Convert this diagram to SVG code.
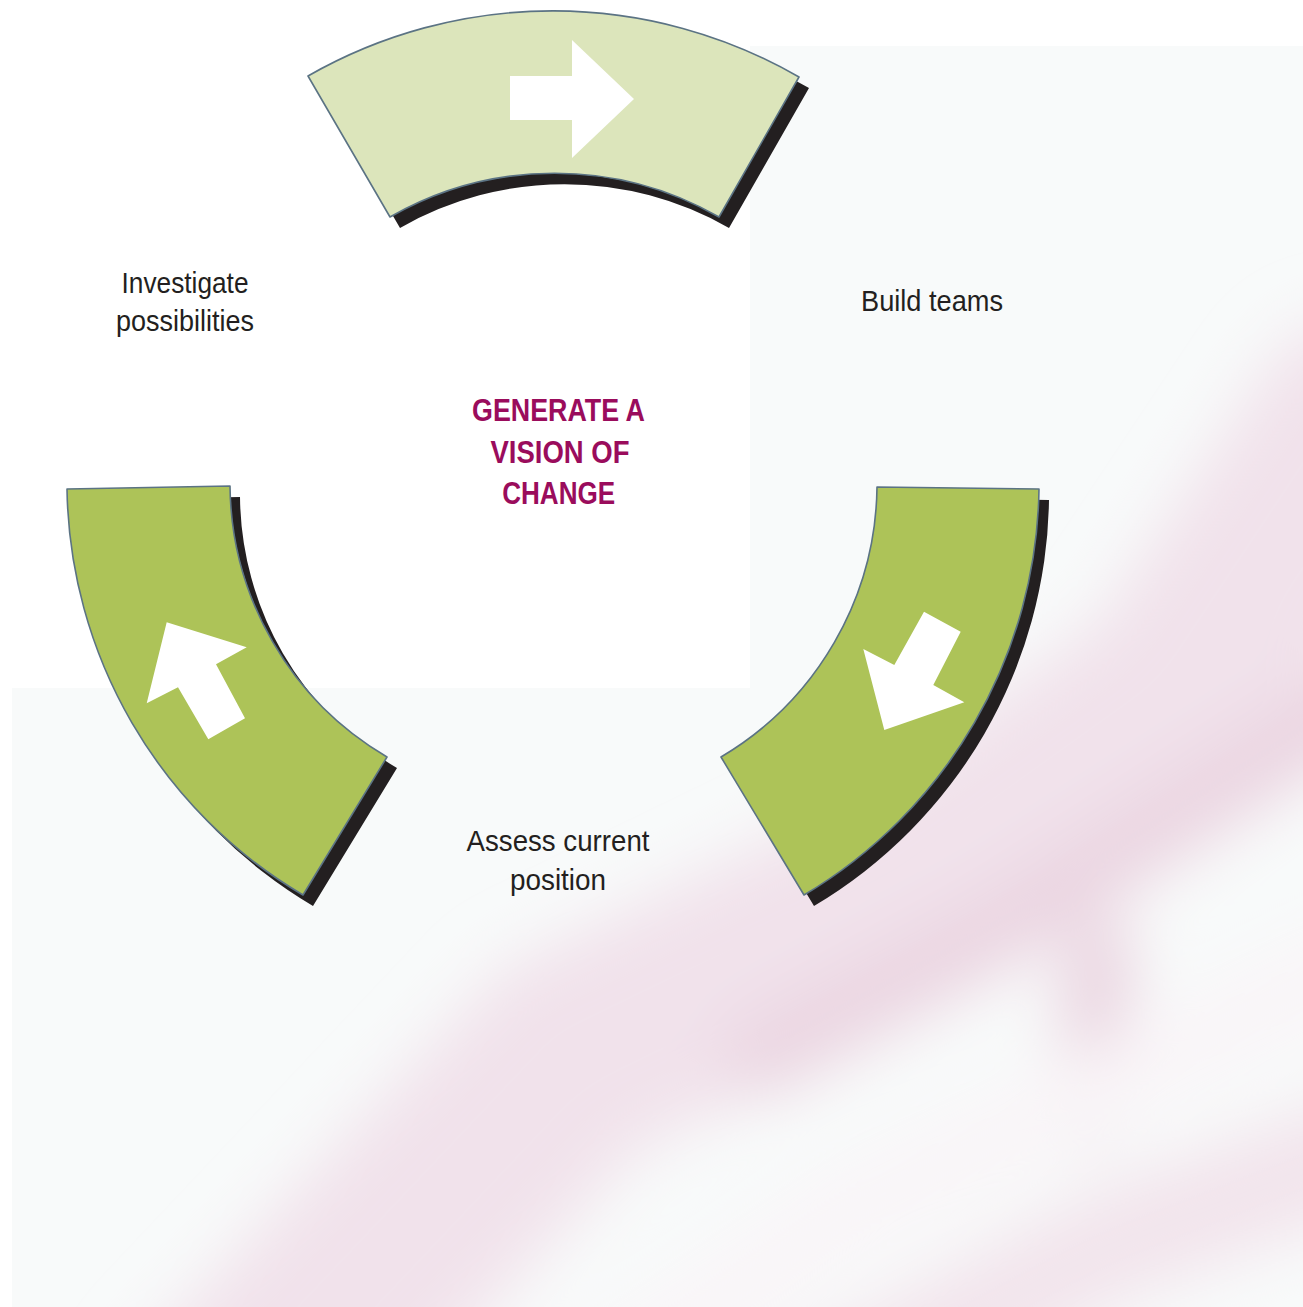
<svg xmlns="http://www.w3.org/2000/svg" width="1303" height="1307" viewBox="0 0 1303 1307">
  <defs>
    <style>
      .seg { stroke: #5b7384; stroke-width: 1.6; stroke-linejoin: round; }
      .pale { fill: #dce5bb; }
      .bright { fill: #adc358; }
      .shadow { fill: #231f20; }
      .arrow { fill: #ffffff; }
      .label { font-family: "Liberation Sans Narrow", "Liberation Sans", Arial, sans-serif; font-size: 30px; fill: #231f20; text-anchor: middle; }
      .title { font-family: "Liberation Sans Narrow", "Liberation Sans", Arial, sans-serif; font-size: 32px; font-weight: bold; fill: #9a0c5c; text-anchor: middle; }
    </style>
    <filter id="haze" x="-20%" y="-20%" width="140%" height="140%">
      <feGaussianBlur stdDeviation="32"/>
    </filter>
  </defs>

  <!-- backdrop -->
  <g id="backdrop">
    <rect x="0" y="0" width="1303" height="1307" fill="#ffffff"/>
    <rect x="750" y="46" width="553" height="1261" fill="#f8fafa"/>
    <rect x="12" y="688" width="1291" height="619" fill="#f8fafa"/>
    <g filter="url(#haze)" fill="none" stroke-linecap="round">
      <path d="M230,1420 L570,1060 L900,900 L1180,700 L1360,430" stroke="#f1e2eb" stroke-width="220"/>
      <path d="M760,1060 L1000,930 L1360,700" stroke="#ead3e0" stroke-width="70"/>
      <path d="M1085,1120 L1100,950" stroke="#e8cfdd" stroke-width="60"/>
      <path d="M570,1400 L850,1210 L1360,960" stroke="#f9f5f8" stroke-width="80"/>
      <path d="M820,1400 L1100,1250 L1360,1150" stroke="#f2e4ec" stroke-width="110"/>
    </g>
  </g>

  <!-- top segment -->
  <g id="segment-top">
    <path class="shadow" transform="translate(10,11)" d="M308,76 A492,492 0 0 1 799,77 L719,217 A331,331 0 0 0 390,217 Z"/>
    <path class="seg pale" d="M308,76 A492,492 0 0 1 799,77 L719,217 A331,331 0 0 0 390,217 Z"/>
    <polygon class="arrow" points="510,76 572,76 572,40 634,99 572,158 572,120 510,120"/>
  </g>

  <!-- left segment -->
  <g id="segment-left">
    <path class="shadow" transform="translate(10,11)" d="M67,489 L230,486 A318,318 0 0 0 387,757 L303,895 A480,480 0 0 1 67,489 Z"/>
    <path class="seg bright" d="M67,489 L230,486 A318,318 0 0 0 387,757 L303,895 A480,480 0 0 1 67,489 Z"/>
    <polygon class="arrow" points="166.7,622.3 246.7,647.3 216,664.3 245,718.3 208.3,739.3 178,687.3 146.7,703.3"/>
  </g>

  <!-- right segment -->
  <g id="segment-right">
    <path class="shadow" transform="translate(10,11)" d="M877,487 L1039,489 A480,480 0 0 1 804,895 L721,757 A318,318 0 0 0 877,487 Z"/>
    <path class="seg bright" d="M877,487 L1039,489 A480,480 0 0 1 804,895 L721,757 A318,318 0 0 0 877,487 Z"/>
    <polygon class="arrow" points="924,611.7 960.7,631.7 933.3,685 964.3,702.3 884.3,730 863.3,649 894.3,665"/>
  </g>

  <!-- step labels -->
  <g id="label-investigate">
    <text class="label" x="185" y="292.5" textLength="127" lengthAdjust="spacingAndGlyphs">Investigate</text>
    <text class="label" x="185" y="331" textLength="138" lengthAdjust="spacingAndGlyphs">possibilities</text>
  </g>
  <g id="label-build">
    <text class="label" x="932" y="310.7" textLength="142" lengthAdjust="spacingAndGlyphs">Build teams</text>
  </g>
  <g id="label-assess">
    <text class="label" x="558" y="851" textLength="183" lengthAdjust="spacingAndGlyphs">Assess current</text>
    <text class="label" x="558" y="890" textLength="96" lengthAdjust="spacingAndGlyphs">position</text>
  </g>

  <!-- centre title -->
  <g id="title">
    <text class="title" x="558.5" y="420.7" textLength="173" lengthAdjust="spacingAndGlyphs">GENERATE A</text>
    <text class="title" x="560" y="463.3" textLength="139" lengthAdjust="spacingAndGlyphs">VISION OF</text>
    <text class="title" x="558.7" y="504" textLength="113" lengthAdjust="spacingAndGlyphs">CHANGE</text>
  </g>

  <!-- no connectors: the cycle is carried by the arrow glyphs inside the segments -->
  <g id="connectors"/>
</svg>
